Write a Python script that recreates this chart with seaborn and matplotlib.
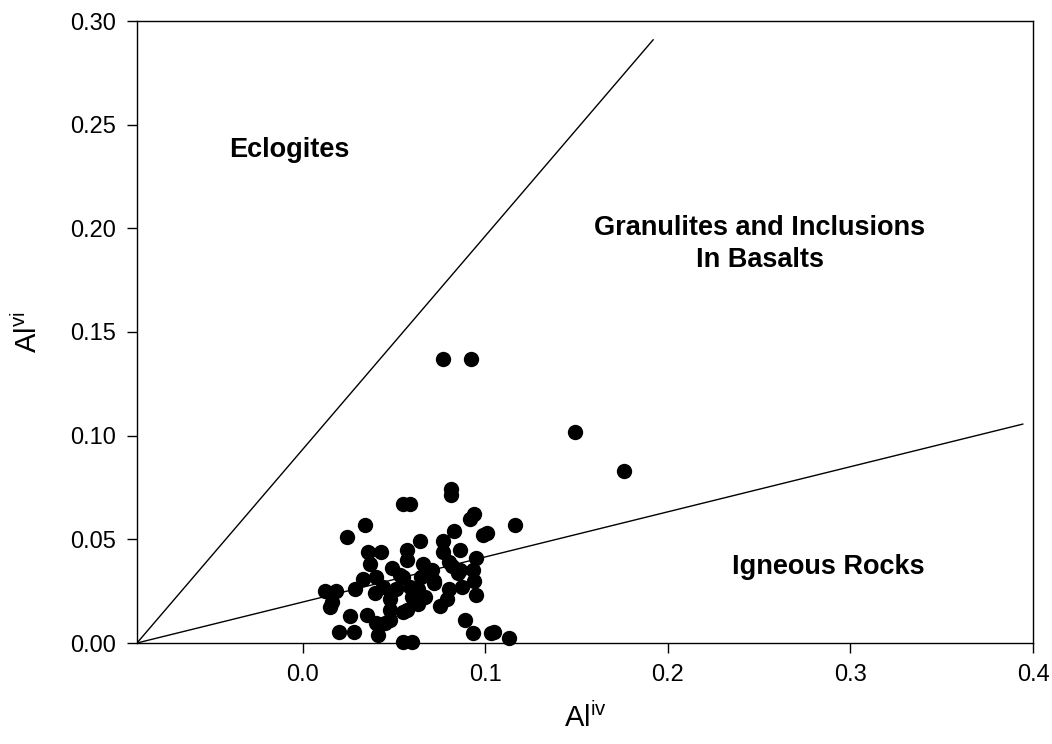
import matplotlib
matplotlib.use("Agg")
import matplotlib.pyplot as plt
import seaborn as sns
import pandas as pd

# ---- data ----
al_iv = [0.077, 0.092, 0.149, 0.176,
         0.081, 0.081, 0.055, 0.059,
         0.034, 0.024, 0.116, 0.0915, 0.094,
         0.083, 0.099, 0.101,
         0.036, 0.043, 0.057, 0.064, 0.077, 0.077, 0.086, 0.095,
         0.037, 0.049, 0.057, 0.066, 0.071, 0.080, 0.086, 0.093, 0.082,
         0.033, 0.040, 0.053, 0.055, 0.065, 0.072, 0.085, 0.094,
         0.059, 0.063, 0.067, 0.072, 0.080, 0.087, 0.095,
         0.0285, 0.0395, 0.044, 0.048, 0.051,
         0.075, 0.079, 0.060, 0.063, 0.057, 0.055, 0.048,
         0.048, 0.035, 0.040, 0.041, 0.045,
         0.026, 0.020, 0.028,
         0.012, 0.018, 0.015, 0.016,
         0.089, 0.093, 0.103, 0.105, 0.113,
         0.055, 0.060]
al_vi = [0.137, 0.137, 0.102, 0.083,
         0.0745, 0.0715, 0.067, 0.067,
         0.057, 0.051, 0.057, 0.060, 0.062,
         0.054, 0.052, 0.053,
         0.044, 0.044, 0.045, 0.049, 0.049, 0.044, 0.045, 0.041,
         0.038, 0.036, 0.040, 0.038, 0.035, 0.039, 0.035, 0.035, 0.037,
         0.031, 0.032, 0.033, 0.032, 0.032, 0.030, 0.034, 0.030,
         0.027, 0.026, 0.022, 0.029, 0.026, 0.027, 0.023,
         0.026, 0.024, 0.027, 0.021, 0.026,
         0.018, 0.021, 0.022, 0.019, 0.016, 0.015, 0.016,
         0.011, 0.0135, 0.0095, 0.004, 0.0095,
         0.013, 0.0055, 0.0055,
         0.025, 0.025, 0.0175, 0.020,
         0.011, 0.005, 0.005, 0.0055, 0.0023,
         0.0006, 0.0006]

# boundary lines (Al^iv, Al^vi)
upper_x = [-0.0908, 0.192]
upper_y = [0.0, 0.291]
lower_x = [-0.0908, 0.3945]
lower_y = [0.0, 0.1056]

x_ticks = [0.0, 0.1, 0.2, 0.3, 0.4]
y_ticks = [0.00, 0.05, 0.10, 0.15, 0.20, 0.25, 0.30]

sns.set_theme(style="ticks")
plt.rcParams['font.family'] = ['Liberation Sans', 'DejaVu Sans']
plt.rcParams['mathtext.fontset'] = 'custom'
plt.rcParams['mathtext.rm'] = 'Liberation Sans'
plt.rcParams['mathtext.it'] = 'Liberation Sans'
plt.rcParams['text.color'] = 'black'
plt.rcParams['axes.labelcolor'] = 'black'
plt.rcParams['xtick.color'] = 'black'
plt.rcParams['ytick.color'] = 'black'

df = pd.DataFrame({"Al_iv": al_iv, "Al_vi": al_vi})

fig = plt.figure(figsize=(10.52, 7.44), dpi=100)
ax = fig.add_axes([137/1052, 1 - 643/744, (1033 - 137)/1052, (643 - 21)/744])

ax.plot(upper_x, upper_y, color="black", lw=1.0)
ax.plot(lower_x, lower_y, color="black", lw=1.0)

sns.scatterplot(data=df, x="Al_iv", y="Al_vi", ax=ax, color="black",
                s=122, linewidth=0, clip_on=False, zorder=3)

ax.set_xlim(-0.0908, 0.4)
ax.set_ylim(0, 0.30)
ax.set_xticks(x_ticks)
ax.set_xticklabels([f"{v:.1f}" for v in x_ticks])
ax.set_yticks(y_ticks)
ax.set_yticklabels([f"{v:.2f}" for v in y_ticks])
ax.tick_params(direction="out", length=7, width=1, colors="black",
               labelsize=17, top=False, right=False)
ax.tick_params(axis="x", pad=8)
ax.tick_params(axis="y", pad=8)
for sp in ax.spines.values():
    sp.set_visible(True)
    sp.set_color("black")
    sp.set_linewidth(1.0)

ax.set_xlabel(r"Al$^{\mathrm{iv}}$", fontsize=21, labelpad=12, color="black")
ax.set_ylabel(r"Al$^{\mathrm{vi}}$", fontsize=21, labelpad=20, color="black")

ax.text(-0.0071, 0.2377, "Eclogites", fontsize=19.5, fontweight="bold",
        ha="center", va="center", color="black")
ax.text(0.2504, 0.1924, "Granulites and Inclusions\nIn Basalts", fontsize=19.5,
        fontweight="bold", ha="center", va="center", linespacing=1.3,
        color="black")
ax.text(0.2877, 0.0366, "Igneous Rocks", fontsize=19.5, fontweight="bold",
        ha="center", va="center", color="black")

fig.savefig("out.png", dpi=100)
